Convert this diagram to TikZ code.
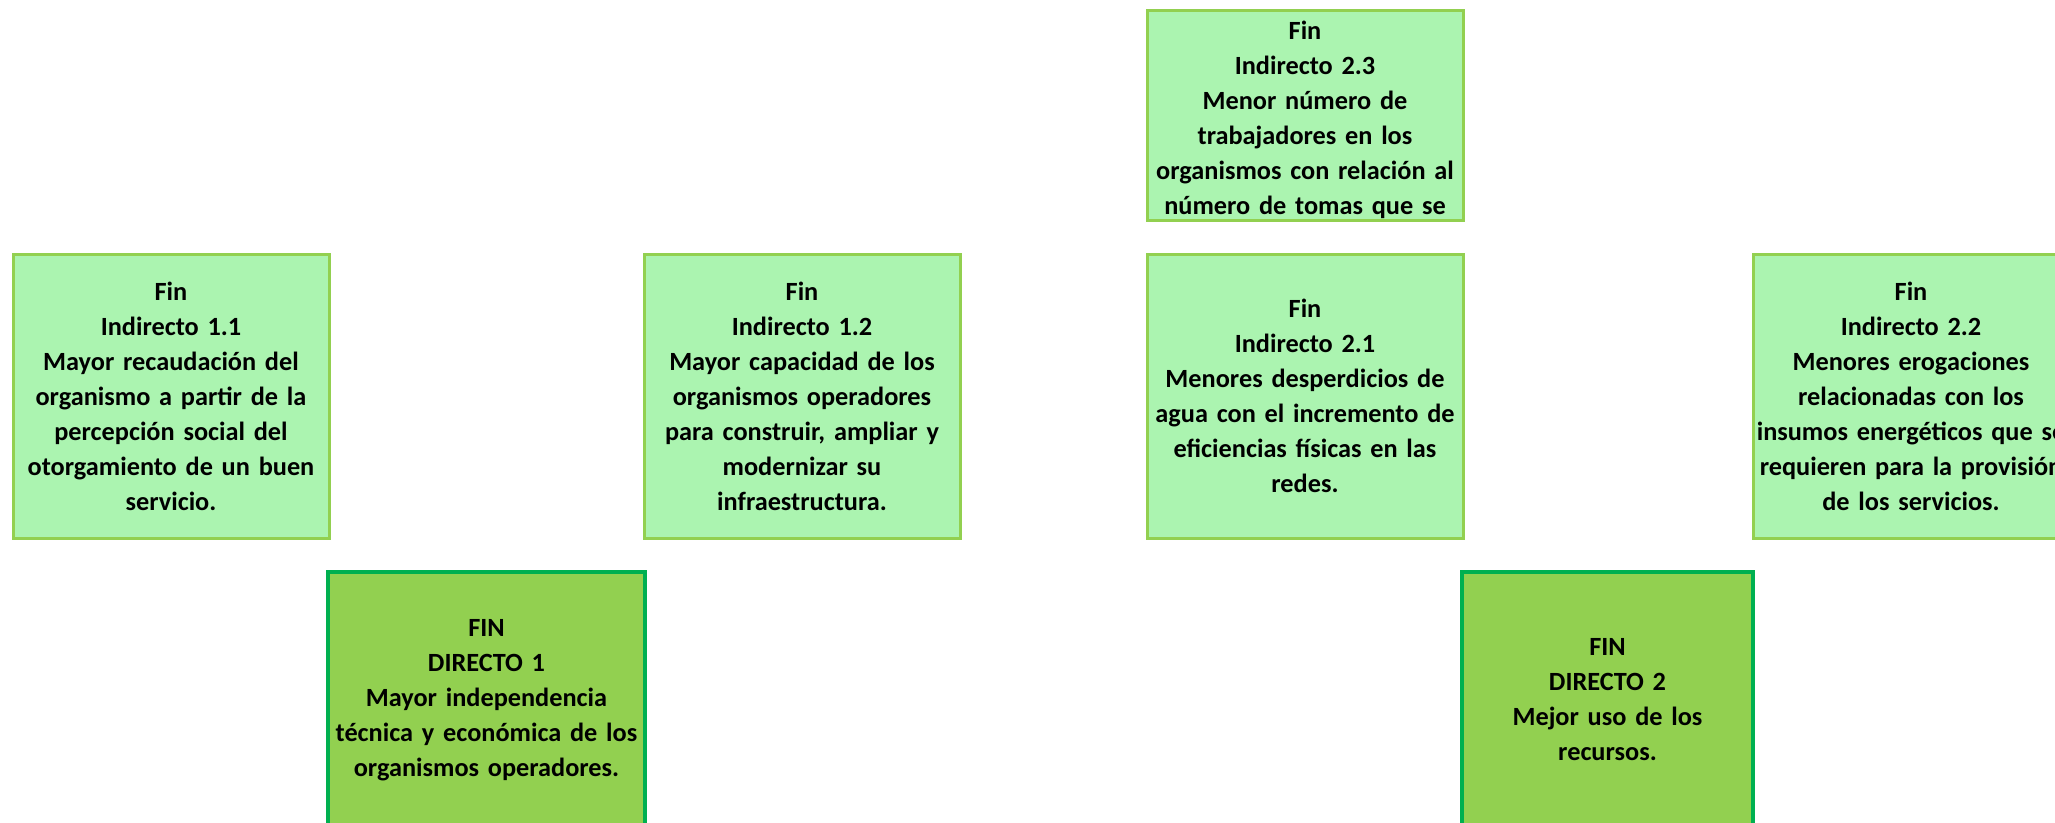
\documentclass[tikz,border=0pt]{standalone}
\usepackage{fontspec}
\setmainfont{Carlito}
\definecolor{lgfill}{RGB}{171,244,176}
\definecolor{lgborder}{RGB}{146,208,80}
\definecolor{dgfill}{RGB}{146,208,80}
\definecolor{dgborder}{RGB}{0,176,80}
\begin{document}
\begin{tikzpicture}[x=1pt,y=-1pt,
  boxtext/.style={align=center, text width=312pt, inner sep=0pt,
    font=\fontsize{26.3}{35}\selectfont\bfseries},
  indbox/.style={boxtext, draw=lgborder, fill=lgfill, line width=3pt,
    minimum width=316pt, minimum height=284pt},
  dirbox/.style={boxtext, draw=dgborder, fill=dgfill, line width=4.5pt,
    minimum height=256pt}]
\useasboundingbox (0,0) rectangle (2055,822);
\clip (0,0) rectangle (2055,822);

\node[indbox, minimum height=210pt] (b23) at (1305,115) {};
\node[boxtext] (b23t) at (1305,120)
  {Fin\\Indirecto 2.3\\Menor número de\\trabajadores en los\\organismos con relación al\\número de tomas que se};

\node[indbox] (b11) at (171,396)
  {Fin\\Indirecto 1.1\\Mayor recaudación del\\organismo a partir de la\\percepción social del\\otorgamiento de un buen\\servicio.};
\node[indbox] (b12) at (802,396)
  {Fin\\Indirecto 1.2\\Mayor capacidad de los\\organismos operadores\\para construir, ampliar y\\modernizar su\\infraestructura.};
\node[indbox] (b21) at (1305,396)
  {Fin\\Indirecto 2.1\\Menores desperdicios de\\agua con el incremento de\\eficiencias físicas en las\\redes.};
\node[indbox] (b22) at (1911,396)
  {Fin\\Indirecto 2.2\\Menores erogaciones\\relacionadas con los\\insumos energéticos que se\\requieren para la provisión\\de los servicios.};

\node[dirbox, minimum width=317pt] (d1) at (486.5,700)
  {FIN\\DIRECTO 1\\Mayor independencia\\técnica y económica de los\\organismos operadores.};
\node[dirbox, minimum width=291pt, text width=287pt] (d2) at (1607.5,700)
  {FIN\\DIRECTO 2\\Mejor uso de los\\recursos.};
\end{tikzpicture}
\end{document}
